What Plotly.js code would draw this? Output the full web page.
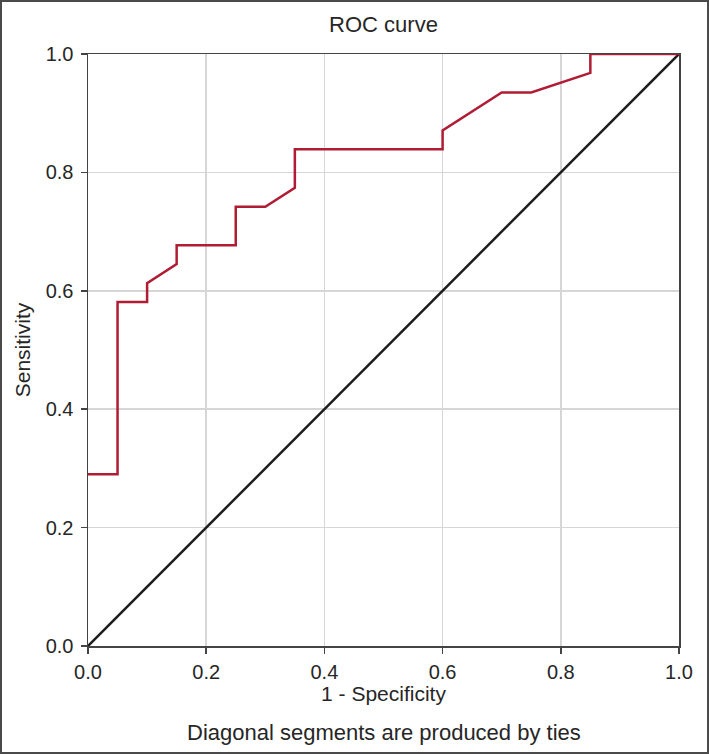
<!DOCTYPE html>
<html>
<head>
<meta charset="utf-8">
<script src="https://cdn.plot.ly/plotly-3.0.1.min.js"></script>
<style>
  html, body { margin: 0; padding: 0; background: #fff; }
  #wrap { position: relative; width: 709px; height: 754px; }
  #chart { width: 709px; height: 754px; }
  #frame { position: absolute; left: 0; top: 0; width: 709px; height: 754px;
           box-sizing: border-box; border: 2px solid #4a4a4a; pointer-events: none; }
</style>
</head>
<body>
<div id="wrap">
  <div id="chart"></div>
  <div id="frame"></div>
</div>
<script>
// ROC curve points (1 - Specificity, Sensitivity)
const fpr = [0.00, 0.05, 0.05, 0.10, 0.10, 0.15, 0.15, 0.25, 0.25, 0.30, 0.35, 0.35, 0.60, 0.60, 0.70, 0.75, 0.85, 0.85, 1.00];
const tpr = [0.290, 0.290, 0.581, 0.581, 0.613, 0.645, 0.677, 0.677, 0.742, 0.742, 0.774, 0.839, 0.839, 0.871, 0.935, 0.935, 0.968, 1.000, 1.000];
// Reference (chance) line
const refX = [0, 1];
const refY = [0, 1];
const tickVals = [0, 0.2, 0.4, 0.6, 0.8, 1.0];
const tickText = ["0.0", "0.2", "0.4", "0.6", "0.8", "1.0"];

const FONT = "Liberation Sans, Arial, Helvetica, sans-serif";
const TXT = "#262626";

const traces = [
  { x: refX, y: refY, type: "scatter", mode: "lines",
    line: { color: "#1c1c1c", width: 2.5 }, hoverinfo: "skip", showlegend: false },
  { x: fpr, y: tpr, type: "scatter", mode: "lines",
    line: { color: "#b01c33", width: 2.5 }, showlegend: false }
];

const axisCommon = {
  range: [0, 1], tickvals: tickVals, ticktext: tickText,
  showgrid: true, gridcolor: "#d6d6d6", gridwidth: 1.5,
  showline: true, linecolor: "#444", linewidth: 1.5, mirror: true,
  ticks: "outside", ticklen: 6, tickwidth: 1.5, tickcolor: "#444",
  tickfont: { family: FONT, size: 20, color: TXT },
  zeroline: false, fixedrange: true
};

const layout = {
  width: 709, height: 754,
  margin: { l: 88, r: 30, t: 54, b: 108 },
  paper_bgcolor: "#fff", plot_bgcolor: "#fff",
  font: { family: FONT, color: TXT },
  title: { text: "ROC curve", font: { family: FONT, size: 22, color: TXT },
           x: 0.5, xref: "paper", xanchor: "center", y: 1, yref: "container", yanchor: "top", pad: { t: 17 } },
  xaxis: Object.assign({}, axisCommon, {
    ticklabelstandoff: 1,
    title: { text: "1 - Specificity", font: { family: FONT, size: 21, color: TXT }, standoff: 3 }
  }),
  yaxis: Object.assign({}, axisCommon, {
    ticklabelstandoff: 3,
    title: { text: "Sensitivity", font: { family: FONT, size: 21, color: TXT }, standoff: 9 }
  }),
  annotations: [
    { text: "Diagonal segments are produced by ties", xref: "paper", yref: "paper",
      x: 0.5, y: 0, xanchor: "center", yanchor: "top", yshift: -72, showarrow: false,
      font: { family: FONT, size: 22, color: TXT } }
  ]
};

Plotly.newPlot("chart", traces, layout, { displayModeBar: false, staticPlot: true });
</script>
</body>
</html>
